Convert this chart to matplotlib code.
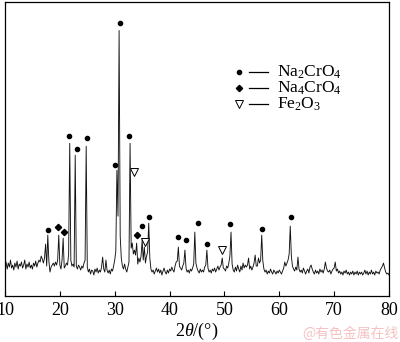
import numpy as np
import matplotlib
matplotlib.use("Agg")
import matplotlib.pyplot as plt

plt.rcParams["font.family"] = ["Liberation Serif", "DejaVu Serif"]
plt.rcParams["mathtext.fontset"] = "custom"
plt.rcParams["mathtext.rm"] = "Liberation Serif"
plt.rcParams["mathtext.it"] = "Liberation Serif:italic"
plt.rcParams["mathtext.default"] = "regular"

# XRD trace, one row per degree (10.0, 10.2, ... 10.8)
two_theta_start = 10.0
two_theta_step = 0.2
intensity = [
    30, 34, 27, 33, 29,   # 10
    36, 28, 31, 26, 33,   # 11
    29, 35, 27, 32, 30,   # 12
    34, 28, 31, 36, 27,   # 13
    32, 29, 34, 28, 31,   # 14
    27, 33, 30, 35, 29,   # 15
    33, 36, 34, 40, 37,   # 16
    33, 38, 52, 30, 61,   # 17
    35, 24, 29, 31, 33,   # 18
    30, 34, 31, 36, 61,   # 19
    31, 27, 36, 58, 28,   # 20
    30, 33, 31, 42, 153,  # 21
    36, 30, 32, 29, 141,  # 22
    30, 27, 31, 29, 26,   # 23
    30, 28, 33, 36, 150,  # 24
    29, 24, 27, 22, 26,   # 25
    25, 21, 27, 24, 28,   # 26
    23, 26, 24, 29, 39,   # 27
    27, 24, 36, 26, 23,   # 28
    26, 22, 27, 25, 30,   # 29
    36, 45, 126, 80, 266,  # 30
    60, 38, 30, 27, 32,   # 31
    27, 24, 29, 34, 153,  # 32
    48, 53, 42, 46, 41,   # 33
    53, 32, 38, 34, 40,   # 34
    56, 36, 49, 33, 40,   # 35
    44, 73, 38, 27, 24,   # 36
    26, 22, 25, 28, 24,   # 37
    27, 23, 26, 21, 25,   # 38
    28, 24, 22, 26, 23,   # 39
    27, 25, 29, 26, 24,   # 40
    30, 34, 35, 49, 30,   # 41
    28, 26, 30, 33, 46,   # 42
    28, 24, 26, 23, 27,   # 43
    25, 28, 32, 64, 33,   # 44
    28, 25, 23, 27, 24,   # 45
    26, 24, 29, 31, 46,   # 46
    28, 24, 26, 23, 27,   # 47
    25, 28, 24, 27, 30,   # 48
    26, 29, 31, 38, 28,   # 49
    27, 25, 30, 28, 33,   # 50
    40, 64, 32, 26, 24,   # 51
    29, 25, 31, 27, 24,   # 52
    30, 26, 33, 28, 31,   # 53
    29, 31, 38, 27, 30,   # 54
    26, 29, 33, 41, 30,   # 55
    30, 38, 33, 36, 61,   # 56
    35, 27, 24, 26, 22,   # 57
    25, 23, 27, 24, 22,   # 58
    26, 24, 22, 25, 23,   # 59
    26, 24, 22, 25, 28,   # 60
    34, 30, 33, 36, 42,   # 61
    70, 40, 30, 27, 25,   # 62
    29, 26, 39, 27, 24,   # 63
    26, 23, 28, 25, 22,   # 64
    25, 27, 23, 29, 31,   # 65
    27, 24, 22, 26, 23,   # 66
    25, 22, 27, 24, 26,   # 67
    23, 27, 34, 28, 25,   # 68
    24, 26, 22, 25, 27,   # 69
    28, 34, 25, 27, 23,   # 70
    25, 22, 24, 21, 25,   # 71
    23, 26, 22, 24, 21,   # 72
    24, 22, 25, 21, 24,   # 73
    22, 25, 21, 24, 22,   # 74
    24, 21, 23, 26, 22,   # 75
    25, 21, 24, 22, 26,   # 76
    22, 24, 21, 25, 23,   # 77
    24, 22, 26, 28, 30,   # 78
    33, 28, 24, 22, 23,   # 79
    21,                   # 80
]

# phase markers (2theta, height)
na2cro4_pos = [17.78, 21.72, 23.07, 24.89, 30.05, 30.96, 32.66, 35.03,
               36.3, 41.6, 42.93, 45.2, 46.76, 51.1, 56.8, 62.1]
na2cro4_h = [66, 160, 147, 158, 131, 273, 160, 70,
             79, 59, 56, 73, 52, 72, 67, 79]
na4cro4_pos = [19.72, 20.82, 34.1]
na4cro4_h = [69, 64, 61]
fe2o3_pos = [33.5, 35.5, 49.6]
fe2o3_h = [124, 54, 46]

legend_labels = ["Na$_2$CrO$_4$", "Na$_4$CrO$_4$", "Fe$_2$O$_3$"]
xticks = [10, 20, 30, 40, 50, 60, 70, 80]

two_theta = two_theta_start + two_theta_step * np.arange(len(intensity))

fig = plt.figure(figsize=(4, 3.42), dpi=100)
ax = fig.add_axes([0.0125, 0.1345, 0.96, 0.861])

ax.plot(two_theta, intensity, color="#111111", lw=0.65)
ax.plot(na2cro4_pos, na2cro4_h, "o", ms=3.0, color="black", ls="none")
ax.plot(na4cro4_pos, na4cro4_h, "D", ms=3.2, color="black", ls="none")
ax.plot(fe2o3_pos, fe2o3_h, "v", ms=6, mfc="white", mec="black", mew=0.7, ls="none")

ax.set_xlim(10, 80)
ax.set_ylim(0, 295)
ax.set_xticks(xticks)
ax.set_yticks([])
ax.tick_params(axis="x", direction="in", length=3.5, width=0.8, labelsize=13, pad=4)
for s in ax.spines.values():
    s.set_linewidth(0.9)
ax.set_xlabel(r"$\mathit{2θ}$/(°)", fontsize=13, labelpad=2)

# legend block, drawn by hand (marker, dash, label)
leg_markers = [dict(marker="o", ms=3.0, color="black"),
               dict(marker="D", ms=3.2, color="black"),
               dict(marker="v", ms=6, mfc="white", mec="black", mew=0.7)]
for i, (lab, mk) in enumerate(zip(legend_labels, leg_markers)):
    yy = 1 - (71 + 16 * i) / 295
    ax.plot([(239 - 5) / 384], [yy], transform=ax.transAxes, ls="none", **mk)
    ax.plot([(249 - 5) / 384, (268 - 5) / 384], [yy, yy], transform=ax.transAxes,
            color="black", lw=0.9)
    ax.text((277 - 5) / 384, yy, lab, transform=ax.transAxes, fontsize=12.5,
            ha="left", va="center")

fig.text(0.876, 0.023, "@有色金属在线", color="#f4c2c2", fontsize=10,
         ha="center", va="center", family=["Noto Sans CJK SC", "DejaVu Sans"])

fig.savefig("out.png", dpi=100)
